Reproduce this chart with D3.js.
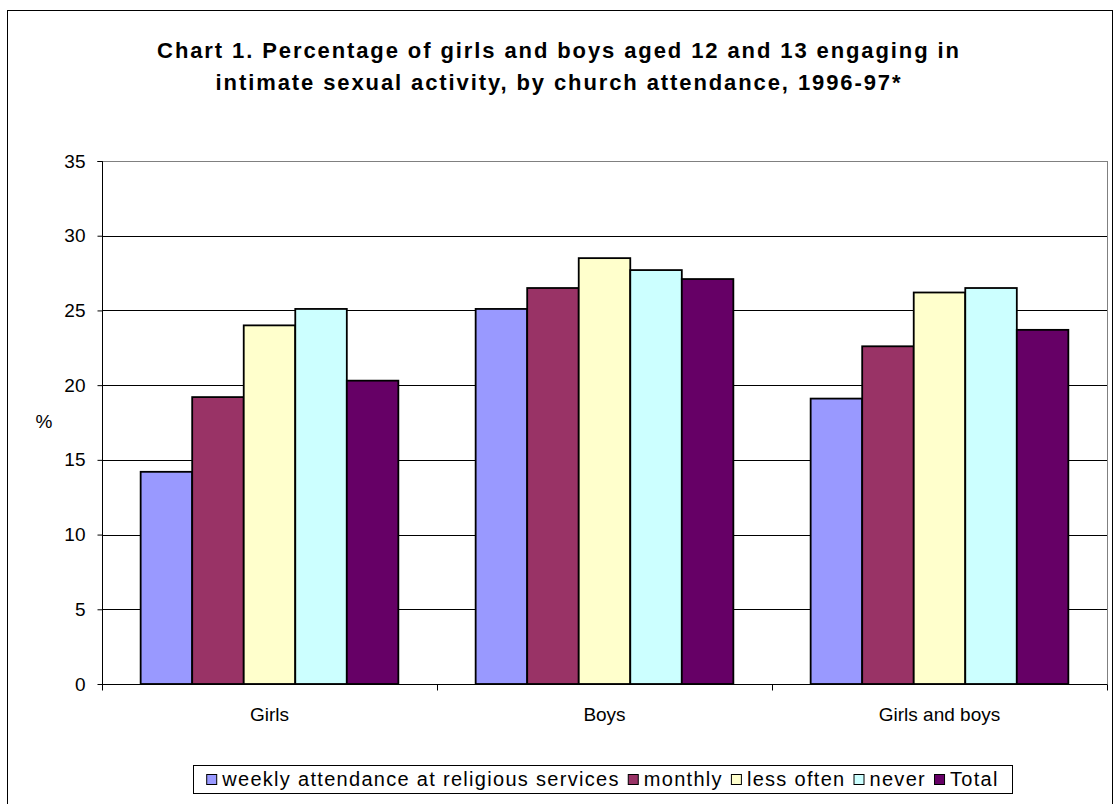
<!DOCTYPE html>
<html>
<head>
<meta charset="utf-8">
<script src="https://cdn.jsdelivr.net/npm/d3@7"></script>
<style>
  body { margin: 0; background: #fff; }
  svg { display: block; font-family: "Liberation Sans", Arial, sans-serif; }
</style>
</head>
<body>
<svg id="chart" width="1116" height="804"></svg>
<script>
// Groups along the x axis
const categories = ["Girls", "Boys", "Girls and boys"];
// Church attendance series
const seriesNames = ["weekly attendance at religious services", "monthly", "less often", "never", "Total"];
const seriesColors = ["#9999FF", "#993366", "#FFFFCC", "#CCFFFF", "#660066"];
// Percentages per series, in category order
const weekly = [14.2, 25.1, 19.1];
const monthly = [19.2, 26.5, 22.6];
const lessOften = [24.0, 28.5, 26.2];
const never = [25.1, 27.7, 26.5];
const total = [20.3, 27.1, 23.7];
const yTicks = [0, 5, 10, 15, 20, 25, 30, 35];
const titleLines = [
  "Chart 1. Percentage of girls and boys aged 12 and 13 engaging in",
  "intimate sexual activity, by church attendance, 1996-97*"
];

const seriesValues = [weekly, monthly, lessOften, never, total];

const svg = d3.select("#chart");
const plot = { left: 102, right: 1107, top: 161, bottom: 684 };
const labelFont = 19;

// Outer chart frame
svg.append("rect")
  .attr("x", 7.5).attr("y", 10.5)
  .attr("width", 1105).attr("height", 820)
  .attr("fill", "none").attr("stroke", "#000").attr("stroke-width", 1);

// Title
svg.append("g").selectAll("text").data(titleLines).join("text")
  .attr("x", 559).attr("y", (d, i) => 58 + i * 32)
  .attr("text-anchor", "middle")
  .attr("font-size", 22).attr("font-weight", "bold")
  .attr("letter-spacing", 1.9)
  .text(d => d);

const x0 = d3.scaleBand().domain(categories).range([plot.left, plot.right]).paddingInner(0).paddingOuter(0);
// Gap width of 150%: five bars plus one and a half bar widths of gap per group
const x1 = d3.scaleBand().domain(d3.range(seriesNames.length))
  .range([0, x0.bandwidth()]).paddingInner(0).paddingOuter(0.75);
const y = d3.scaleLinear().domain([0, 35]).range([plot.bottom, plot.top]);

// Plot-area border
svg.append("rect")
  .attr("x", plot.left + 0.5).attr("y", plot.top + 0.5)
  .attr("width", plot.right - plot.left).attr("height", plot.bottom - plot.top)
  .attr("fill", "none").attr("stroke", "#808080").attr("stroke-width", 1);

// Horizontal gridlines
svg.append("g").selectAll("line").data(yTicks.filter(t => t > 0 && t < 35)).join("line")
  .attr("x1", plot.left).attr("x2", plot.right)
  .attr("y1", d => Math.round(y(d)) + 0.5).attr("y2", d => Math.round(y(d)) + 0.5)
  .attr("stroke", "#000").attr("stroke-width", 1);

// Bars
const groups = svg.append("g").selectAll("g").data(categories).join("g")
  .attr("transform", c => `translate(${x0(c)},0)`);
groups.selectAll("rect")
  .data((c, ci) => seriesValues.map((vals, si) => ({ si, v: vals[ci] })))
  .join("rect")
  .attr("x", d => x1(d.si))
  .attr("y", d => y(d.v))
  .attr("width", x1.bandwidth())
  .attr("height", d => y(0) - y(d.v))
  .attr("fill", d => seriesColors[d.si])
  .attr("stroke", "#000").attr("stroke-width", 1.8);

// Y axis
const yAxis = d3.axisLeft(y).tickValues(yTicks).tickSize(5).tickPadding(12).tickFormat(d3.format("d"));
const ya = svg.append("g").attr("transform", `translate(${plot.left + 0.5},0)`).call(yAxis);
ya.select(".domain").attr("stroke", "#000").attr("d", `M-5,${plot.top + 0.5}H0V${plot.bottom + 0.5}`);
ya.selectAll(".tick line").attr("stroke", "#000");
ya.selectAll(".tick text").attr("font-size", labelFont).attr("font-family", "Liberation Sans, Arial, sans-serif").attr("fill", "#000");

// X axis
const xAxis = d3.axisBottom(x0).tickSize(0).tickPadding(23);
const xa = svg.append("g").attr("transform", `translate(0,${plot.bottom + 0.5})`).call(xAxis);
xa.select(".domain").attr("stroke", "#000").attr("d", `M${plot.left},0H${plot.right}`);
xa.selectAll(".tick text").attr("font-size", labelFont).attr("font-family", "Liberation Sans, Arial, sans-serif").attr("fill", "#000");
// Category boundary ticks
const bounds = categories.map(c => x0(c)).concat([plot.right]);
xa.append("g").selectAll("line").data(bounds).join("line")
  .attr("x1", d => Math.round(d) + 0.5).attr("x2", d => Math.round(d) + 0.5)
  .attr("y1", 0).attr("y2", 6).attr("stroke", "#000");

// Y axis title
svg.append("text").attr("x", 44).attr("y", 428).attr("text-anchor", "middle")
  .attr("font-size", labelFont).text("%");

// Legend
const legend = svg.append("g");
const lg = { x: 193, y: 765, w: 819, h: 28 };
legend.append("rect").attr("x", lg.x + 0.5).attr("y", lg.y + 0.5)
  .attr("width", lg.w).attr("height", lg.h)
  .attr("fill", "#fff").attr("stroke", "#000");
const items = legend.append("g");
let cx = 0;
seriesNames.forEach((name, i) => {
  const it = items.append("g").attr("transform", `translate(${cx},0)`);
  it.append("rect").attr("x", 0.5).attr("y", -11.5).attr("width", 10).attr("height", 10)
    .attr("fill", seriesColors[i]).attr("stroke", "#000").attr("stroke-width", 1);
  const t = it.append("text").attr("x", 16).attr("y", 0).attr("font-size", 20)
    .attr("letter-spacing", 1.3).text(name);
  cx += 16 + t.node().getComputedTextLength() + 8;
});
const itemsW = cx - 8;
items.attr("transform", `translate(${lg.x + (lg.w - itemsW) / 2},${lg.y + 21})`);
</script>
</body>
</html>
